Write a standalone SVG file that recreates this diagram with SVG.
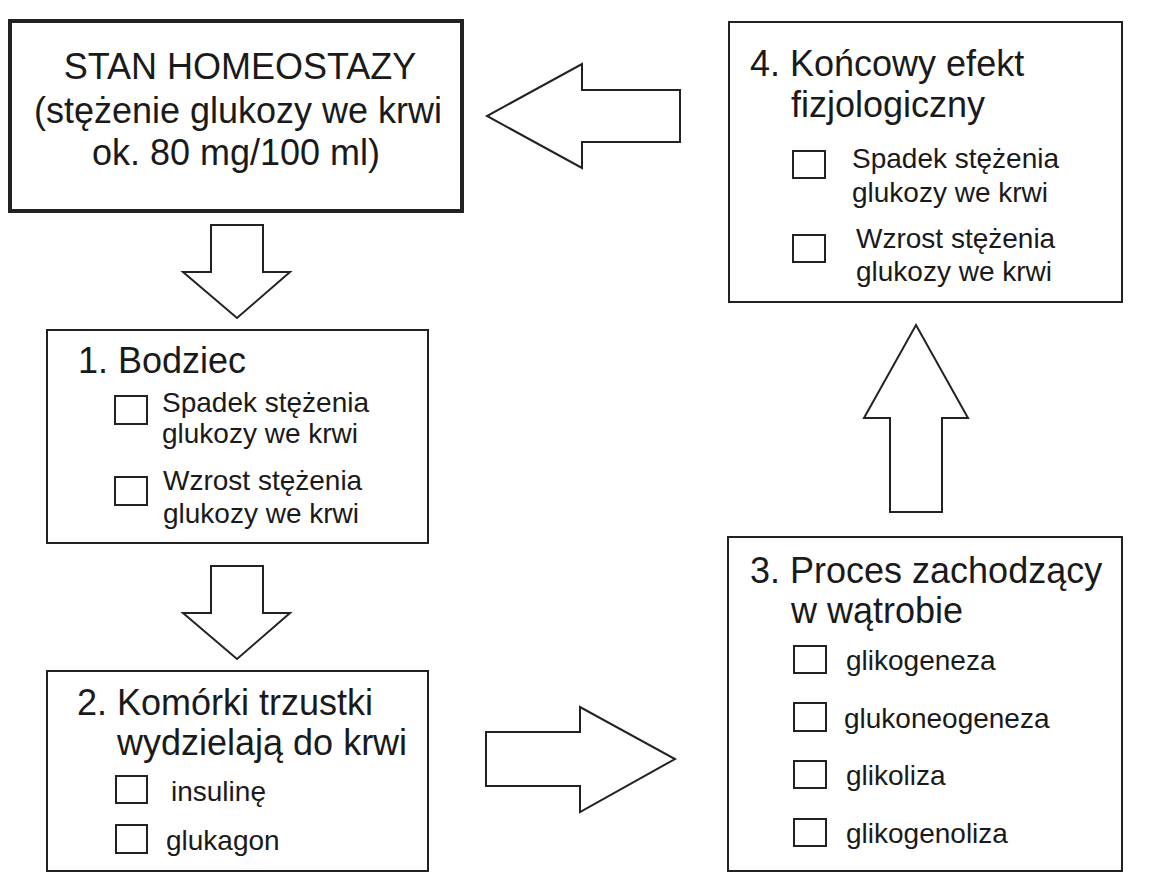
<svg xmlns="http://www.w3.org/2000/svg" width="1162" height="888" viewBox="0 0 1162 888">
<style>
text{font-family:"Liberation Sans",Arial,sans-serif;fill:#1a1a1a}
.t{font-size:36px}
.i{font-size:28px}
.b{fill:#fff;stroke:#222;stroke-width:2}
.cb{fill:#fff;stroke:#222;stroke-width:2}
.a{fill:#fff;stroke:#222;stroke-width:2;stroke-linejoin:miter}
</style>
<rect width="1162" height="888" fill="#fff"/>
<g id="connectors">
<polygon class="a" points="680,90 582,90 582,64 487,116 582,168 582,142 680,142"/>
<polygon class="a" points="211,225 263,225 263,272 290,272 237,318 183,272 211,272"/>
<polygon class="a" points="211,566 263,566 263,613 290,613 237,659 183,613 211,613"/>
<polygon class="a" points="486,732 580,732 580,707 675,759 580,812 580,786 486,786"/>
<polygon class="a" points="890,512 942,512 942,418 968,418 916,325 864,418 890,418"/>
</g>
<g id="homeostaza">
<rect x="10" y="21" width="452" height="190" fill="#fff" stroke="#222" stroke-width="4"/>
<text class="t" x="240" y="79" text-anchor="middle">STAN HOMEOSTAZY</text>
<text class="t" x="238" y="123" text-anchor="middle">(stężenie glukozy we krwi</text>
<text class="t" x="236" y="165" text-anchor="middle">ok. 80 mg/100 ml)</text>
</g>
<g id="bodziec">
<rect class="b" x="47" y="330" width="381" height="213"/>
<text class="t" x="78" y="373">1. Bodziec</text>
<rect class="cb" x="115" y="396" width="32" height="28"/>
<text class="i" x="162" y="412">Spadek stężenia</text>
<text class="i" x="162" y="443">glukozy we krwi</text>
<rect class="cb" x="115" y="477" width="32" height="28"/>
<text class="i" x="163" y="490">Wzrost stężenia</text>
<text class="i" x="163" y="523">glukozy we krwi</text>
</g>
<g id="trzustka">
<rect class="b" x="47" y="671" width="381" height="200"/>
<text class="t" x="77" y="715">2. Komórki trzustki</text>
<text class="t" x="117" y="755">wydzielają do krwi</text>
<rect class="cb" x="116" y="776" width="31" height="27"/>
<text class="i" x="171" y="801">insulinę</text>
<rect class="cb" x="116" y="825" width="31" height="28"/>
<text class="i" x="166" y="850">glukagon</text>
</g>
<g id="watroba">
<rect class="b" x="728" y="537" width="394" height="334"/>
<text class="t" x="750" y="583">3. Proces zachodzący</text>
<text class="t" x="791" y="623">w wątrobie</text>
<rect class="cb" x="794" y="646" width="32" height="27"/>
<text class="i" x="846" y="670">glikogeneza</text>
<rect class="cb" x="794" y="703" width="32" height="28"/>
<text class="i" x="844" y="728">glukoneogeneza</text>
<rect class="cb" x="794" y="761" width="32" height="27"/>
<text class="i" x="846" y="785">glikoliza</text>
<rect class="cb" x="794" y="819" width="32" height="27"/>
<text class="i" x="846" y="843">glikogenoliza</text>
</g>
<g id="efekt">
<rect class="b" x="729" y="22" width="393" height="280"/>
<text class="t" x="750" y="76">4. Końcowy efekt</text>
<text class="t" x="791" y="117">fizjologiczny</text>
<rect class="cb" x="793" y="151" width="32" height="27"/>
<text class="i" x="852" y="168">Spadek stężenia</text>
<text class="i" x="852" y="202">glukozy we krwi</text>
<rect class="cb" x="793" y="235" width="32" height="27"/>
<text class="i" x="856" y="248">Wzrost stężenia</text>
<text class="i" x="856" y="281">glukozy we krwi</text>
</g>
</svg>
